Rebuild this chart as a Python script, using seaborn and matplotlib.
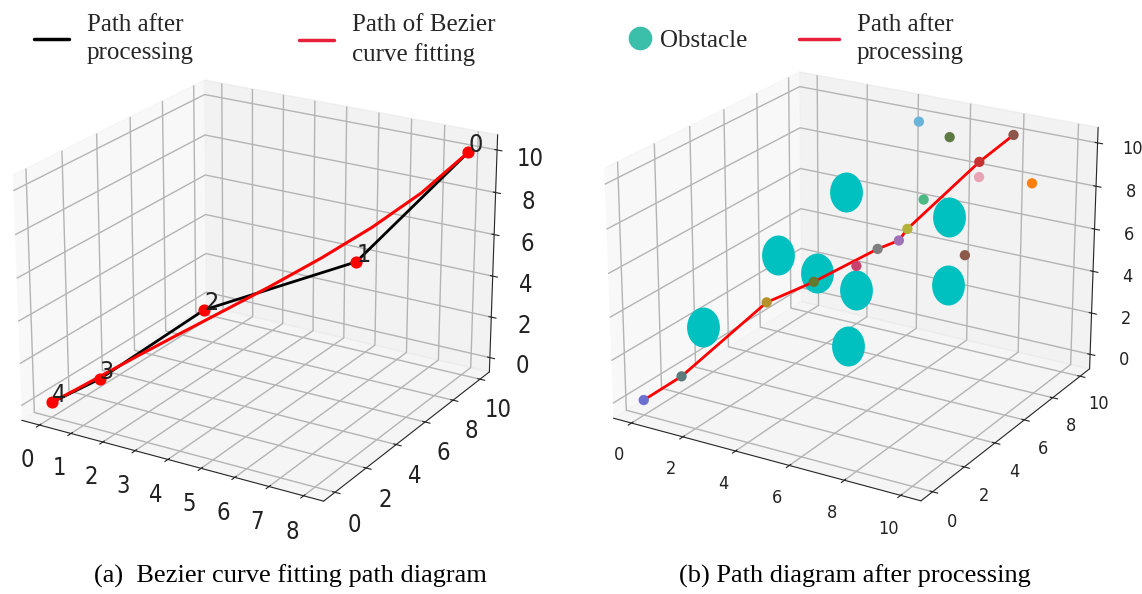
import matplotlib
matplotlib.use("Agg")
import matplotlib.pyplot as plt
from matplotlib.lines import Line2D
from matplotlib.path import Path
from matplotlib.transforms import Affine2D
import seaborn as sns

sns.set_style("white")
plt.rcParams["font.family"] = ["DejaVu Sans"]
plt.rcParams["font.stretch"] = "condensed"
plt.rcParams["grid.color"] = "#b4b4b4"
plt.rcParams["grid.linewidth"] = 1.0
SERIF = ["Liberation Serif", "DejaVu Serif"]

# ---------------- panel (a): processed path and Bezier fit ----------------
path_ids = ["0", "1", "2", "3", "4"]
path_x = [8, 6, 3, 1, 0]
path_y = [10, 7, 3.5, 1, 0]
path_z = [10, 5.5, 3.8, 1, 0]

bezier_x = [0, 0.46, 1.04, 1.72, 2.51, 3.38, 4.30, 5.26, 6.22, 7.15, 8]
bezier_y = [0, 0.49, 1.14, 1.95, 2.89, 3.94, 5.08, 6.28, 7.53, 8.78, 10]
bezier_z = [0, 0.50, 1.15, 1.91, 2.76, 3.68, 4.66, 5.75, 6.96, 8.35, 10]

ticks_a_x = list(range(0, 9))
ticks_a_yz = [0, 2, 4, 6, 8, 10]

# ---------------- panel (b): waypoints, obstacles, processed path ----------------
route_x = [0, 0.95, 2.5, 4, 5.5, 6, 6.2, 7.5, 8]
route_y = [0, 0.8, 3.5, 4, 5.5, 6, 6.2, 8.6, 10]
route_z = [0, 1.0, 3.6, 4.75, 6, 6.3, 6.8, 9.2, 10]
route_colors = ["#6b6fd0", "#5c7b7b", "#b5912a", "#66782e", "#7f7f7f",
                "#a070b8", "#b3b23a", "#c83232", "#8c564b"]

extra_x = [5, 5, 6, 7.5, 10, 6, 8]
extra_y = [5, 9, 9.3, 8.6, 7.5, 7.6, 6.8]
extra_z = [5.3, 10.3, 9.7, 8.5, 9.3, 7.5, 5.8]
extra_colors = ["#c8426e", "#6ab4dc", "#5d7a45", "#e8a4b4", "#ff7f0e",
                "#4cb882", "#8c5a4b"]

obst_x = [4, 2, 3.5, 5, 5, 1, 7, 7]
obst_y = [6, 5, 5, 5, 4.5, 2, 7.5, 7.5]
obst_z = [8, 5, 4.55, 4.2, 1.8, 2.75, 7, 3.8]

ticks_b = [0, 2, 4, 6, 8, 10]

ELEV, AZIM = 22, -59

fig = plt.figure(figsize=(11.42, 5.94), dpi=100)

# ---------- left 3D axes ----------
ax1 = fig.add_axes([-0.028, 0.102, 0.50, 0.84], projection="3d", computed_zorder=False)
ax1.view_init(elev=ELEV, azim=AZIM)
ax1.set_box_aspect((4, 4, 3), zoom=1.08)
ax1.plot(path_x, path_y, path_z, color="black", lw=2.0, zorder=2)
ax1.plot(bezier_x, bezier_y, bezier_z, color="red", lw=2.2, zorder=3)
ax1.scatter(path_x, path_y, path_z, color="red", s=60, depthshade=False, zorder=4)
for px, py, pz, lab in zip(path_x, path_y, path_z, path_ids):
    ax1.text(px, py, pz, lab, fontsize=18, color="#222222", zorder=5)
ax1.set_xlim(-0.57, 8.57)
ax1.set_ylim(-0.71, 10.71)
ax1.set_zlim(-0.71, 10.71)
ax1.set_xticks(ticks_a_x)
ax1.set_yticks(ticks_a_yz)
ax1.set_zticks(ticks_a_yz)
ax1.tick_params(labelsize=17, colors="#222222")
ax1.tick_params(axis="z", pad=5.5)

# ---------- right 3D axes ----------
ellipse = Path.unit_circle().transformed(Affine2D().scale(0.82, 1.0))
ax2 = fig.add_axes([0.494, 0.11, 0.50, 0.84], projection="3d", computed_zorder=False)
ax2.view_init(elev=ELEV, azim=AZIM)
ax2.set_box_aspect((4, 4, 3), zoom=1.1)
ax2.scatter(obst_x, obst_y, obst_z, color="#00c0c0", s=830, marker=ellipse,
            depthshade=False, linewidths=0, zorder=1)
ax2.plot(route_x, route_y, route_z, color="red", lw=2.0, zorder=2)
ax2.scatter(route_x, route_y, route_z, c=route_colors, s=55, depthshade=False,
            linewidths=0, zorder=3)
ax2.scatter(extra_x, extra_y, extra_z, c=extra_colors, s=55, depthshade=False,
            linewidths=0, zorder=3)
ax2.set_xlim(-0.71, 10.71)
ax2.set_ylim(-0.71, 10.71)
ax2.set_zlim(-0.71, 10.71)
for setter in (ax2.set_xticks, ax2.set_yticks, ax2.set_zticks):
    setter(ticks_b)
ax2.tick_params(labelsize=13, colors="#222222")
ax2.tick_params(axis="z", pad=6)

# the panels carry no axis titles; keep the unused label slots out of the layout
for ax in (ax1, ax2):
    for axis in (ax.xaxis, ax.yaxis, ax.zaxis):
        axis.label.set_visible(False)
        axis.offsetText.set_visible(False)

# ---------- legends ----------
leg_kw = dict(frameon=False, prop={"family": SERIF, "size": 18}, borderpad=0,
              borderaxespad=0, handletextpad=0.7, loc="upper left")
legends = [
    fig.legend([Line2D([], [], color="black", lw=2.5)], ["Path after\nprocessing"],
               bbox_to_anchor=(0.03, 0.977), handlelength=1.4, **leg_kw),
    fig.legend([Line2D([], [], color="#e8203c", lw=2.5)], ["Path of Bezier\ncurve fitting"],
               bbox_to_anchor=(0.262, 0.977), handlelength=1.4, **leg_kw),
    fig.legend([Line2D([], [], ls="", marker="o", color="#3cbfaa", markersize=16)],
               ["Obstacle"], bbox_to_anchor=(0.552, 0.951), handlelength=0.8,
               **{**leg_kw, "handletextpad": 0.4}),
    fig.legend([Line2D([], [], color="#e8203c", lw=2.5)], ["Path after\nprocessing"],
               bbox_to_anchor=(0.70, 0.977), handlelength=1.6, **leg_kw),
]
for leg in legends:
    for t in leg.get_texts():
        t.set_linespacing(1.4)

# ---------- captions ----------
fig.text(0.254, 0.029, "(a)  Bezier curve fitting path diagram", ha="center",
         va="center", family=SERIF, fontsize=19, color="black")
fig.text(0.749, 0.029, "(b) Path diagram after processing", ha="center",
         va="center", family=SERIF, fontsize=19, color="black")

fig.savefig("out.png", dpi=100, facecolor="white")
